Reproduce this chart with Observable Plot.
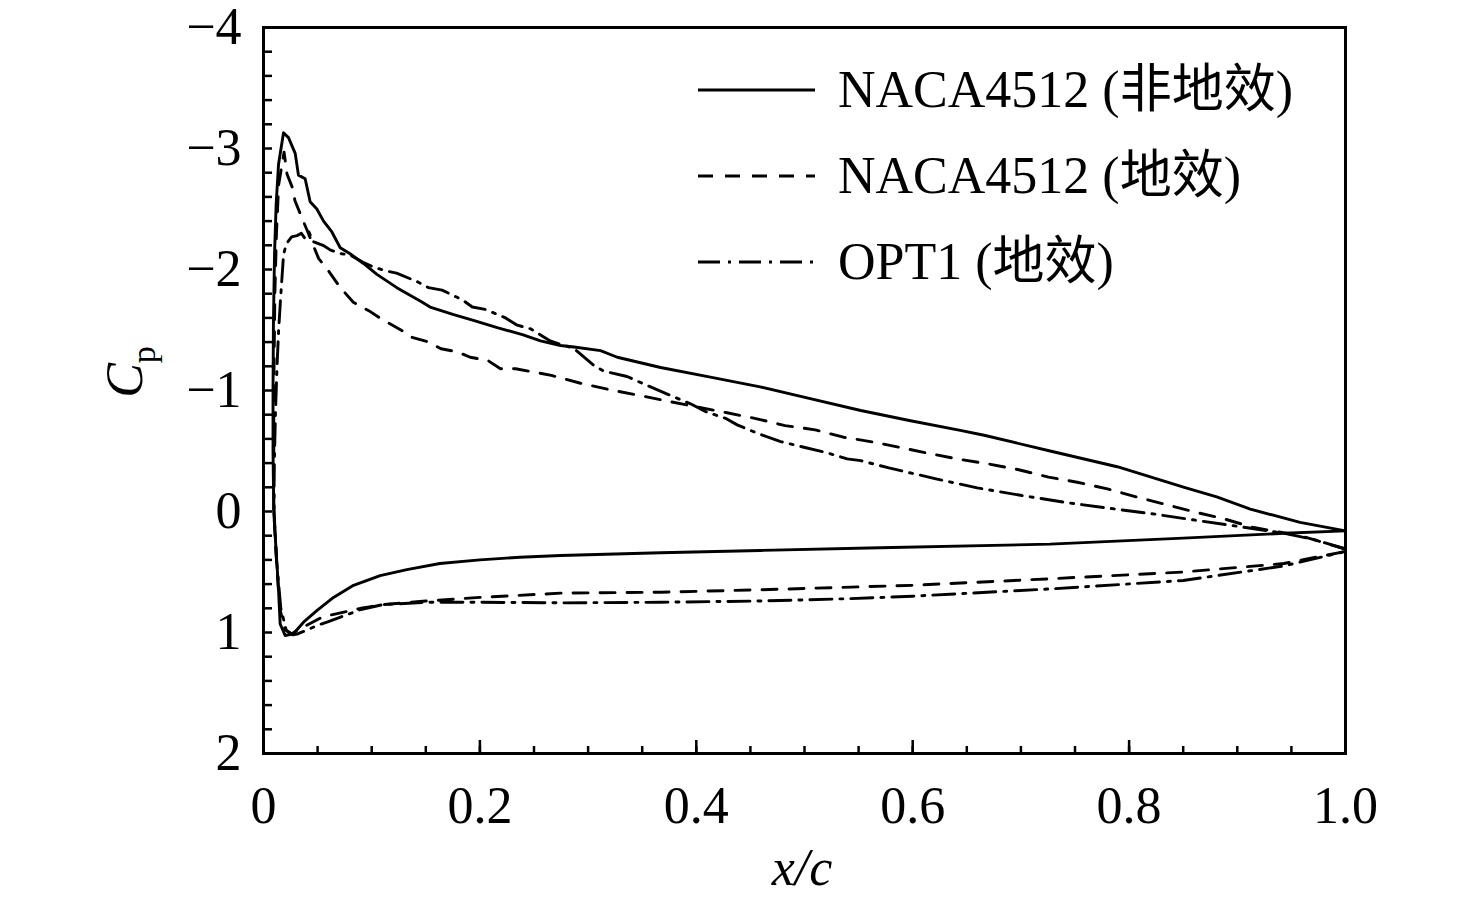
<!DOCTYPE html>
<html><head><meta charset="utf-8">
<script src="https://cdn.jsdelivr.net/npm/d3@7"></script>
<script src="https://cdn.jsdelivr.net/npm/@observablehq/plot@0.6"></script>
<style>body{margin:0;background:#fff}</style>
</head><body><div id="chart"></div>
<script>
// NACA4512 (非地效) — solid: upper surface TE→LE, then lower surface LE→TE
const nacaFreeX = [1.0, 0.958, 0.912, 0.881, 0.851, 0.789, 0.727, 0.666, 0.644, 0.598, 0.552, 0.4994, 0.459, 0.413, 0.367, 0.327, 0.3115, 0.287, 0.2745, 0.256, 0.24, 0.216, 0.194, 0.175, 0.154, 0.1448, 0.1232, 0.1048, 0.0924, 0.080, 0.0709, 0.0632, 0.0555, 0.0493, 0.0431, 0.0385, 0.0323, 0.0293, 0.0231, 0.0185, 0.0139, 0.0117, 0.0102, 0.0092, 0.0088, 0.0088, 0.0095, 0.0115, 0.0139, 0.0154, 0.020, 0.0277, 0.037, 0.0493, 0.0647, 0.0832, 0.1078, 0.1325, 0.163, 0.200, 0.237, 0.2745, 0.367, 0.459, 0.570, 0.727, 0.85, 0.943, 1.0];
const nacaFreeCp = [0.16, 0.09, -0.02, -0.12, -0.20, -0.37, -0.50, -0.63, -0.67, -0.75, -0.835, -0.945, -1.03, -1.11, -1.19, -1.275, -1.33, -1.36, -1.372, -1.41, -1.46, -1.52, -1.58, -1.63, -1.69, -1.74, -1.85, -1.96, -2.05, -2.13, -2.18, -2.31, -2.40, -2.50, -2.56, -2.75, -2.78, -2.96, -3.09, -3.13, -2.87, -2.54, -2.13, -1.58, -1.0, -0.5, 0, 0.3, 0.65, 0.93, 1.025, 1.01, 0.915, 0.82, 0.71, 0.61, 0.53, 0.48, 0.43, 0.40, 0.378, 0.364, 0.341, 0.322, 0.30, 0.27, 0.22, 0.18, 0.16];

// NACA4512 (地效) — dashed
const nacaGroundX = [1.0, 0.958, 0.914, 0.8875, 0.861, 0.834, 0.807, 0.78, 0.752, 0.7255, 0.698, 0.672, 0.641, 0.6165, 0.592, 0.564, 0.536, 0.510, 0.482, 0.456, 0.4285, 0.40, 0.3746, 0.347, 0.3207, 0.293, 0.266, 0.245, 0.233, 0.219, 0.207, 0.191, 0.179, 0.164, 0.153, 0.137, 0.127, 0.111, 0.099, 0.083, 0.071, 0.06, 0.051, 0.04, 0.034, 0.029, 0.027, 0.0217, 0.019, 0.014, 0.012, 0.0105, 0.0095, 0.0095, 0.012, 0.015, 0.02, 0.026, 0.03, 0.04, 0.055, 0.065, 0.09, 0.11, 0.15, 0.2, 0.2745, 0.367, 0.459, 0.543, 0.6, 0.727, 0.85, 0.943, 1.0];
const nacaGroundCp = [0.31, 0.20, 0.13, 0.06, 0.005, -0.058, -0.12, -0.187, -0.242, -0.284, -0.345, -0.39, -0.435, -0.477, -0.523, -0.573, -0.614, -0.675, -0.71, -0.766, -0.816, -0.865, -0.91, -0.96, -1.005, -1.06, -1.125, -1.16, -1.18, -1.18, -1.25, -1.275, -1.32, -1.345, -1.40, -1.44, -1.50, -1.58, -1.65, -1.73, -1.85, -1.99, -2.09, -2.33, -2.46, -2.57, -2.67, -2.79, -2.97, -2.7, -2.3, -1.8, -1.0, 0, 0.4, 0.8, 0.98, 1.01, 0.99, 0.94, 0.87, 0.85, 0.80, 0.77, 0.74, 0.71, 0.675, 0.667, 0.647, 0.625, 0.61, 0.556, 0.50, 0.43, 0.33];

// OPT1 (地效) — dash-dot
const opt1X = [1.0, 0.97, 0.943, 0.906, 0.863, 0.824, 0.783, 0.742, 0.701, 0.6596, 0.6215, 0.578, 0.552, 0.5394, 0.519, 0.4994, 0.478, 0.4578, 0.4378, 0.427, 0.410, 0.3946, 0.376, 0.356, 0.336, 0.3145, 0.305, 0.2865, 0.275, 0.265, 0.2468, 0.2345, 0.2237, 0.205, 0.193, 0.1836, 0.165, 0.1525, 0.142, 0.123, 0.1124, 0.1017, 0.092, 0.080, 0.072, 0.062, 0.055, 0.046, 0.042, 0.038, 0.035, 0.031, 0.026, 0.021, 0.0185, 0.0157, 0.014, 0.0125, 0.011, 0.0098, 0.0098, 0.012, 0.016, 0.021, 0.027, 0.032, 0.04, 0.05, 0.06, 0.075, 0.09, 0.11, 0.15, 0.2, 0.2745, 0.367, 0.459, 0.543, 0.6, 0.727, 0.85, 0.943, 1.0];
const opt1Cp = [0.31, 0.23, 0.18, 0.13, 0.074, 0.022, -0.025, -0.074, -0.132, -0.195, -0.27, -0.36, -0.42, -0.435, -0.49, -0.531, -0.578, -0.642, -0.716, -0.77, -0.82, -0.89, -0.96, -1.036, -1.116, -1.16, -1.21, -1.35, -1.38, -1.41, -1.51, -1.54, -1.60, -1.67, -1.69, -1.75, -1.83, -1.85, -1.90, -1.97, -1.99, -2.02, -2.06, -2.12, -2.13, -2.16, -2.2, -2.23, -2.31, -2.26, -2.30, -2.28, -2.27, -2.21, -2.12, -1.75, -1.5, -1.2, -0.8, -0.3, 0, 0.4, 0.8, 0.98, 1.02, 1.01, 0.98, 0.94, 0.91, 0.86, 0.81, 0.77, 0.75, 0.75, 0.755, 0.75, 0.74, 0.72, 0.70, 0.64, 0.57, 0.45, 0.33];

const seriesNames = ["NACA4512 (非地效)", "NACA4512 (地效)", "OPT1 (地效)"];
const seriesDash = [null, "15,12", "22,8,3,8"];
const xTickValues = [0, 0.2, 0.4, 0.6, 0.8, 1.0];
const xTickText = ["0", "0.2", "0.4", "0.6", "0.8", "1.0"];
const yTickValues = [-4, -3, -2, -1, 0, 1, 2];
const yTickText = ["\u22124", "\u22123", "\u22122", "\u22121", "0", "1", "2"];
const xMinorTicks = d3.range(0, 21).map(i => i * 0.05);
const yMinorTicks = d3.range(0, 31).map(i => -4 + i * 0.2);

const rows = (xs, cps) => xs.map((x, i) => ({x, cp: cps[i]}));
const seriesData = [rows(nacaFreeX, nacaFreeCp), rows(nacaGroundX, nacaGroundCp), rows(opt1X, opt1Cp)];

const W = 1476, H = 906, mL = 263, mR = 131, mT = 27, mB = 153;
const plotW = W - mL - mR, plotH = H - mT - mB;
const serif = "'Liberation Serif','Times New Roman','Noto Sans CJK SC',serif";

const chart = Plot.plot({
  width: W, height: H, marginLeft: mL, marginRight: mR, marginTop: mT, marginBottom: mB,
  style: {fontFamily: serif, fontSize: "52px", color: "#000", background: "#fff", overflow: "visible"},
  x: {domain: [0, 1]},
  y: {domain: [2, -4]},
  marks: [
    ...seriesData.map((d, i) => Plot.line(d, {x: "x", y: "cp", stroke: "#000", strokeWidth: 2.9, strokeDasharray: seriesDash[i]})),
    Plot.tickY(yMinorTicks, {y: d => d, insetRight: plotW - 9, stroke: "#000", strokeWidth: 2.5}),
    Plot.tickX(xMinorTicks, {x: d => d, insetTop: plotH - 7, stroke: "#000", strokeWidth: 2.5}),
    Plot.tickX(xTickValues, {x: d => d, insetTop: plotH - 13, stroke: "#000", strokeWidth: 2.5}),
    Plot.axisX({ticks: xTickValues, tickSize: 0, tickPadding: 33, tickFormat: (d, i) => xTickText[i], label: null}),
    Plot.axisY({ticks: yTickValues, tickSize: 0, tickPadding: 22, tickFormat: (d, i) => yTickText[i], label: null}),
    Plot.frame({stroke: "#000", strokeWidth: 3})
  ]
});

const svg = d3.select(chart);
// axis titles
svg.append("text").attr("x", 802).attr("y", 885).attr("text-anchor", "middle")
  .style("font-style", "italic").style("font-size", "52px").style("font-family", serif).text("x/c");
const cp = svg.append("text").attr("transform", "translate(142,372) rotate(-90)").attr("text-anchor", "middle")
  .style("font-size", "52px").style("font-family", serif);
cp.append("tspan").style("font-style", "italic").text("C");
cp.append("tspan").attr("dy", 13).style("font-size", "34px").text("p");

// legend
const legY = [90, 176, 262];
seriesNames.forEach((name, i) => {
  svg.append("line").attr("x1", 698).attr("x2", 815).attr("y1", legY[i]).attr("y2", legY[i])
    .attr("stroke", "#000").attr("stroke-width", 2.9).attr("stroke-dasharray", seriesDash[i]);
  svg.append("text").attr("x", 838).attr("y", legY[i]).attr("dy", "0.33em").attr("text-anchor", "start")
    .style("font-size", "52px").style("font-family", serif).text(name);
});

document.getElementById("chart").appendChild(chart);
</script>
</body></html>
